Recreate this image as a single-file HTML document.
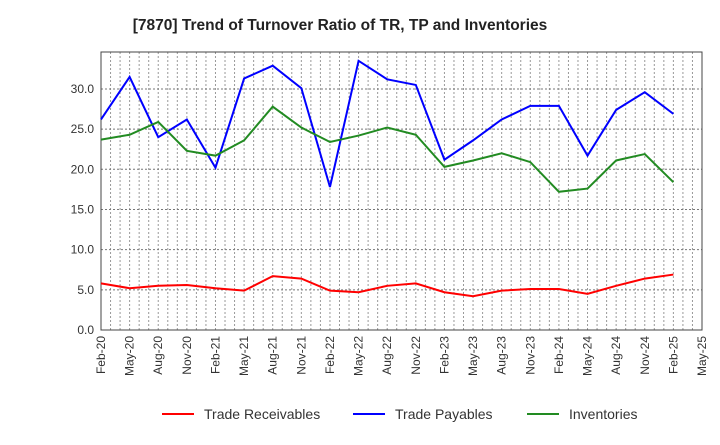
<!DOCTYPE html>
<html><head><meta charset="utf-8"><style>
body{margin:0;background:#fff;font-family:"Liberation Sans",sans-serif}
</style></head><body>
<svg width="720" height="440" xmlns="http://www.w3.org/2000/svg" font-family="Liberation Sans, sans-serif">
<text x="340" y="30" text-anchor="middle" font-size="15.5" font-weight="bold" fill="#222">[7870]  Trend of Turnover Ratio of TR, TP and Inventories</text>
<g id="grid"></g><g id="axes"></g><g id="lines"></g>
<g id="legend"></g>
</svg>
<script>
const xLabels=["Feb-20","May-20","Aug-20","Nov-20","Feb-21","May-21","Aug-21","Nov-21","Feb-22","May-22","Aug-22","Nov-22","Feb-23","May-23","Aug-23","Nov-23","Feb-24","May-24","Aug-24","Nov-24","Feb-25","May-25"];
const yTicks=[0,5,10,15,20,25,30];
const receivables=[5.8,5.2,5.5,5.6,5.2,4.9,6.7,6.4,4.9,4.7,5.5,5.8,4.7,4.2,4.9,5.1,5.1,4.5,5.5,6.4,6.9];
const payables=[26.2,31.5,24.0,26.2,20.2,31.3,32.9,30.1,17.8,33.5,31.2,30.5,21.2,23.6,26.2,27.9,27.9,21.7,27.4,29.6,26.9];
const inventories=[23.7,24.3,25.9,22.3,21.7,23.6,27.8,25.2,23.4,24.2,25.2,24.3,20.3,21.1,22.0,20.9,17.2,17.6,21.1,21.9,18.4];
const L=101,R=702,T=52,B=330,yMax=34.6;
const months=(xLabels.length-1)*3;
const xm=m=>L+(R-L)*m/months;
const xq=i=>xm(i*3);
const y=v=>B-(B-T)*v/yMax;
const NS="http://www.w3.org/2000/svg";
function mk(tag,attrs,parent,text){const e=document.createElementNS(NS,tag);for(const k in attrs)e.setAttribute(k,attrs[k]);if(text!==undefined)e.textContent=text;parent.appendChild(e);return e;}
const grid=document.getElementById('grid'),axes=document.getElementById('axes'),lines=document.getElementById('lines'),legend=document.getElementById('legend');
for(let m=1;m<months;m++){const l=mk('line',{x1:xm(m),x2:xm(m),y1:T,y2:B,stroke:'#999','stroke-dasharray':'2,2','stroke-width':1},grid);

}
yTicks.forEach(v=>{if(v>0){const l=mk('line',{x1:L,x2:R,y1:y(v),y2:y(v),stroke:'#777','stroke-dasharray':'2,2','stroke-width':1},grid);

}
const t=mk('text',{x:L-7,y:y(v)+4,'text-anchor':'end','font-size':12,fill:'#333'},axes,v.toFixed(1));

});
const fr=mk('rect',{x:L,y:T,width:R-L,height:B-T,fill:'none',stroke:'#444','stroke-width':1},axes);


xLabels.forEach((s,i)=>{const x=xq(i);const t=mk('text',{x:x+4,y:B+6,'text-anchor':'end','font-size':12,fill:'#333',transform:`rotate(-90 ${x+4} ${B+6})`},axes,s);

});
const series=[[receivables,'#f00','trade-receivables-line','Trade Receivables',162],[payables,'#00f','trade-payables-line','Trade Payables',353],[inventories,'#228b22','inventories-line','Inventories',527]];
series.forEach(([d,c,n,lab,lx])=>{const p=mk('polyline',{points:d.map((v,i)=>xq(i)+','+y(v)).join(' '),fill:'none',stroke:c,'stroke-width':2},lines);


const ll=mk('line',{x1:lx,x2:lx+32,y1:414,y2:414,stroke:c,'stroke-width':2},legend);


const lt=mk('text',{x:lx+42,y:419,'font-size':14,fill:'#333'},legend,lab);

});
</script>
</body></html>
